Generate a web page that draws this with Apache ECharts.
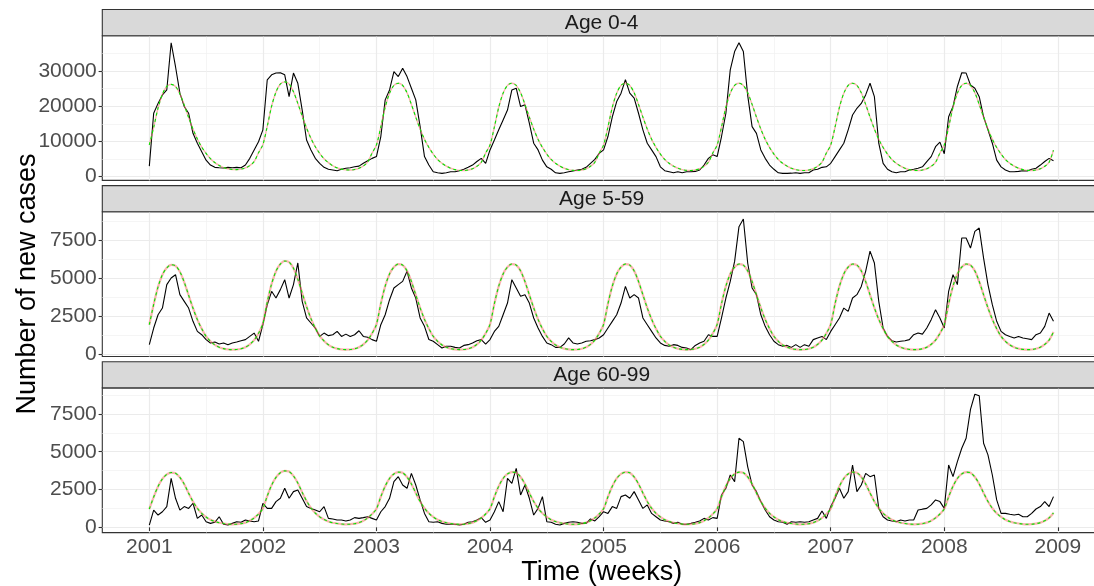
<!DOCTYPE html>
<html><head><meta charset="utf-8">
<script src="https://cdn.jsdelivr.net/npm/echarts@6/dist/echarts.min.js"></script>
<style>html,body{margin:0;padding:0;background:#fff}#c{width:1094px;height:586px}</style>
</head><body><div id="c"></div>
<script>
// ---------------- data ----------------
const panelNames = ['Age 0-4', 'Age 5-59', 'Age 60-99'];
const xAxisTitle = 'Time (weeks)';
const yAxisTitle = 'Number of new cases';
const yearTicks = [2001, 2002, 2003, 2004, 2005, 2006, 2007, 2008, 2009];
const yearMinorBreaks = [2001.5, 2002.5, 2003.5, 2004.5, 2005.5, 2006.5, 2007.5, 2008.5];
const yTicksAge0to4 = [0, 10000, 20000, 30000];
const yMinorAge0to4 = [5000, 15000, 25000, 35000];
const yTicksAge5to59 = [0, 2500, 5000, 7500];
const yMinorAge5to59 = [1250, 3750, 6250, 8750];
const yTicksAge60to99 = [0, 2500, 5000, 7500];
const yMinorAge60to99 = [1250, 3750, 6250, 8750];

// observed cases, one value every two weeks from 2001 week 1
const casesAge0to4 = [
3000,18000,20800,23200,24600,38000,31200,23700,19900,18000,
12300,9500,7100,4700,3300,2650,2550,2460,2650,2550,
2650,2550,3300,5200,7600,9900,13300,27500,28900,29400,
29500,28900,22700,29400,26500,18900,10400,7600,5200,3800,
2650,2100,1900,1700,2100,2400,2550,2800,3000,3800,
4500,5200,5700,11400,21800,24600,29800,28400,30800,28400,
25100,21800,14200,5700,3300,1400,1100,950,1100,1400,
1400,1700,2100,2650,3300,4300,5200,3800,7600,10400,
13300,16100,18900,24600,25100,19900,20400,15200,9500,7600,
4700,2800,2100,1100,950,1100,1400,1600,1900,2100,
2650,3800,4900,6600,7600,11400,17000,21300,23700,27500,
23700,22300,18000,13300,9500,7600,5700,2800,1700,1400,
1100,1400,1100,1400,1400,1500,1900,3300,5200,6200,
5700,11400,18000,30300,35500,38000,35500,23000,14200,12300,
7600,5200,3300,2100,1100,950,950,1000,1100,950,
1100,1100,1900,2100,2650,2800,3800,5700,7600,9500,
13300,17500,19400,20800,23200,26500,22700,9500,3800,2100,
1400,1100,1400,1400,1900,2100,2400,2800,4300,5700,
8500,9800,6500,17000,19900,25600,29500,29400,26000,25100,
22700,17000,13300,9500,4700,2800,1900,1400,1400,1500,
1700,1600,2100,2400,3300,4300,5200,4500];

const casesAge5to59 = [
660,1750,2620,3060,4600,5030,5250,3940,3500,3060,
2190,1530,1310,990,770,830,700,770,660,770,
830,920,990,1200,1420,880,1970,3280,4160,3720,
4270,4920,3720,4600,6020,3500,2410,2080,1750,1200,
1420,1250,1310,1530,1200,1350,1200,1310,1570,1200,
1140,990,880,1970,2620,3610,4380,4600,4810,5470,
4380,3720,2410,1860,1000,880,660,440,550,550,
480,440,610,660,770,920,990,700,990,1530,
1860,2620,3390,4920,4380,3830,3940,3390,2410,1750,
1200,770,660,480,480,700,1100,770,700,770,
880,920,990,1100,1310,1750,2190,2620,3390,4480,
3720,3940,3720,2410,1970,1530,1100,770,610,550,
660,610,480,440,330,610,770,880,1310,1200,
1200,2410,3720,4810,6120,8400,8900,6000,4380,3940,
2620,1860,1310,880,660,550,610,480,660,480,
660,550,990,1100,1200,990,1530,1970,2410,3060,
2840,3720,3940,4480,5470,6800,6020,3500,1750,1200,
920,830,880,920,990,1310,1420,1350,1750,2300,
2950,2410,1750,4160,5250,4600,7660,7660,7000,8090,
8310,6340,4600,3280,2190,1530,1310,1200,1100,1200,
1100,1050,990,1310,1420,1860,2730,2190];

const casesAge60to99 = [
150,1140,810,1030,1370,3240,1920,1140,1370,1250,
1590,590,810,370,260,330,700,200,150,260,
370,330,480,420,370,420,1590,1250,1250,1700,
1920,2580,1920,2360,2470,1920,1370,1250,1140,1030,
1370,590,550,480,480,420,480,640,590,640,
700,590,480,1030,1370,1920,3020,3350,2800,2580,
3570,2800,1810,920,370,330,370,260,200,200,
200,150,200,330,370,480,640,330,480,1030,
1700,1030,3240,2910,3900,2140,2800,1920,810,1250,
2030,370,330,200,150,260,330,370,330,260,
260,550,420,700,1030,920,1370,1250,2030,2140,
1920,2360,1810,1250,1480,920,700,480,420,370,
260,330,200,200,260,330,420,590,480,640,
590,2140,2580,3460,3020,5890,5670,4000,2800,2360,
1700,1140,700,480,370,330,200,370,330,370,
330,370,480,590,1080,590,1370,1920,2580,1920,
2360,4120,2360,2800,3570,3350,3460,1250,700,480,
420,370,480,420,480,480,1140,1200,1250,1480,
1810,1700,1250,4120,3350,4340,5230,5890,7800,8800,
8700,5560,4790,3460,1810,920,920,860,810,860,
700,700,920,1210,1370,1700,1370,2030];

// fitted seasonal curves, same two-week grid (26 values per year)
const fitAge0to4 = [
9000,14000,19500,23400,25600,26200,25600,23500,20300,16800,13500,10700,8400,6600,5100,4000,3200,2600,2250,2050,2000,2150,2500,3150,4300,6800,
9100,14300,20000,24000,26300,26900,26300,24100,20800,17200,13800,10900,8500,6600,5100,4000,3100,2500,2150,1950,1900,2050,2400,3050,4200,6700,
9000,14100,19700,23700,25900,26500,25900,23800,20500,16900,13500,10600,8300,6400,4900,3800,3000,2400,2000,1800,1750,1900,2250,2950,4100,6700,
9000,14100,19700,23700,25900,26500,25900,23800,20500,16900,13500,10600,8300,6400,4900,3800,3000,2400,2000,1800,1750,1900,2250,2950,4100,6700,
9000,14100,19700,23700,25900,26500,25900,23800,20500,16900,13500,10600,8300,6400,4900,3800,3000,2400,2000,1800,1750,1900,2250,2950,4100,6700,
9000,14100,19700,23700,25900,26500,25900,23800,20500,16900,13500,10600,8300,6400,4900,3800,3000,2400,2000,1800,1750,1900,2250,2950,4100,6700,
9000,14100,19700,23700,25900,26500,25900,23800,20500,16900,13500,10600,8300,6400,4900,3800,3000,2400,2000,1800,1750,1900,2250,2950,4100,6700,
9000,14100,19700,23700,25900,26500,25900,23800,20500,16900,13500,10600,8300,6400,4900,3800,3000,2400,2000,1800,1750,1900,2250,2950,4100,7500];
const fitAge5to59 = [
1970,3300,4450,5250,5700,5900,5830,5450,4750,3900,3050,2300,1700,1200,880,640,490,400,350,330,340,390,490,680,960,1400,
2050,3450,4650,5480,5950,6150,6070,5680,4950,4050,3150,2370,1750,1230,900,650,490,400,350,330,340,390,490,680,960,1400,
1990,3350,4500,5300,5750,5950,5880,5500,4800,3930,3070,2320,1710,1210,880,640,490,400,350,330,340,390,490,680,960,1400,
1990,3350,4500,5300,5750,5950,5880,5500,4800,3930,3070,2320,1710,1210,880,640,490,400,350,330,340,390,490,680,960,1400,
1990,3350,4500,5300,5750,5950,5880,5500,4800,3930,3070,2320,1710,1210,880,640,490,400,350,330,340,390,490,680,960,1400,
1990,3350,4500,5300,5750,5950,5880,5500,4800,3930,3070,2320,1710,1210,880,640,490,400,350,330,340,390,490,680,960,1400,
1990,3350,4500,5300,5750,5950,5880,5500,4800,3930,3070,2320,1710,1210,880,640,490,400,350,330,340,390,490,680,960,1400,
1990,3350,4500,5300,5750,5950,5880,5500,4800,3930,3070,2320,1710,1210,880,640,490,400,350,330,340,390,490,680,960,1500];
const fitAge60to99 = [
1210,2000,2700,3200,3500,3620,3580,3300,2850,2250,1700,1250,920,680,500,380,300,250,215,200,205,240,310,430,620,880,
1250,2070,2790,3300,3610,3730,3690,3400,2930,2310,1740,1280,940,690,510,385,300,250,215,200,205,240,310,430,620,880,
1220,2020,2720,3230,3530,3650,3610,3330,2870,2270,1710,1260,925,685,500,380,300,250,215,200,205,240,310,430,620,880,
1220,2020,2720,3230,3530,3650,3610,3330,2870,2270,1710,1260,925,685,500,380,300,250,215,200,205,240,310,430,620,880,
1220,2020,2720,3230,3530,3650,3610,3330,2870,2270,1710,1260,925,685,500,380,300,250,215,200,205,240,310,430,620,880,
1220,2020,2720,3230,3530,3650,3610,3330,2870,2270,1710,1260,925,685,500,380,300,250,215,200,205,240,310,430,620,880,
1220,2020,2720,3230,3530,3650,3610,3330,2870,2270,1710,1260,925,685,500,380,300,250,215,200,205,240,310,430,620,880,
1220,2020,2720,3230,3530,3650,3610,3330,2870,2270,1710,1260,925,685,500,380,300,250,215,200,205,240,310,430,620,950];

// ---------------- layout / style ----------------
const FONT = "'Liberation Sans', Arial, Helvetica, sans-serif";
const X_MIN = 2000.586, X_MAX = 2009.38;
const GRID_LEFT = 102.3, GRID_RIGHT = -7, PANEL_H = 144.7, STRIP_H = 26.2;
const panelTops = [35.7, 211.8, 387.9];
const yRanges = [[-1050, 40000], [-118, 9377], [-350, 9220]];
const cases = [casesAge0to4, casesAge5to59, casesAge60to99];
const fits = [fitAge0to4, fitAge5to59, fitAge60to99];
const yMajors = [yTicksAge0to4, yTicksAge5to59, yTicksAge60to99];
const yMinors = [yMinorAge0to4, yMinorAge5to59, yMinorAge60to99];
const weekTime = i => 2001 + 2 * i / 52;

const grid = [], xAxis = [], yAxis = [], series = [], graphic = [];
for (let k = 0; k < 3; k++) {
  grid.push({left: GRID_LEFT, right: GRID_RIGHT, top: panelTops[k], height: PANEL_H,
    outerBoundsMode: 'none', containLabel: false,
    show: true, borderColor: '#333333', borderWidth: 1.1, backgroundColor: '#ffffff'});
  const last = k === 2;
  xAxis.push({gridIndex: k, type: 'value', position: 'bottom', min: X_MIN, max: X_MAX, axisLine: {show: false},
    axisTick: {show: false, customValues: yearMinorBreaks}, axisLabel: {show: false},
    splitLine: {show: true, lineStyle: {color: '#f0f0f0', width: 0.7}}});
  xAxis.push({gridIndex: k, type: 'value', position: 'bottom', min: X_MIN, max: X_MAX, axisLine: {show: false},
    axisTick: {show: last, customValues: yearTicks, length: 3.7, lineStyle: {color: '#333333', width: 1.1}},
    axisLabel: {show: last, customValues: yearTicks, formatter: v => String(v), color: '#4d4d4d',
      fontSize: 21, fontFamily: FONT, margin: 4},
    splitLine: {show: true, lineStyle: {color: '#ebebeb', width: 1.2}}});
  yAxis.push({gridIndex: k, type: 'value', position: 'left', min: yRanges[k][0], max: yRanges[k][1], axisLine: {show: false},
    axisTick: {show: false, customValues: yMinors[k]}, axisLabel: {show: false},
    splitLine: {show: true, lineStyle: {color: '#f0f0f0', width: 0.7}}});
  yAxis.push({gridIndex: k, type: 'value', position: 'left', min: yRanges[k][0], max: yRanges[k][1], axisLine: {show: false},
    axisTick: {show: true, customValues: yMajors[k], length: 3.7, lineStyle: {color: '#333333', width: 1.1}},
    axisLabel: {show: true, customValues: yMajors[k], formatter: v => String(v), color: '#4d4d4d',
      fontSize: 21, fontFamily: FONT, margin: 5.5},
    splitLine: {show: true, lineStyle: {color: '#ebebeb', width: 1.2}}});

  const obs = cases[k].map((v, i) => [weekTime(i), v]);
  const fitPts = fits[k].map((v, i) => [weekTime(i), v]);
  series.push({type: 'line', xAxisIndex: 2 * k + 1, yAxisIndex: 2 * k + 1, data: obs, showSymbol: false,
    lineStyle: {color: '#000000', width: 1.1}, z: 3, silent: true});
  series.push({type: 'line', xAxisIndex: 2 * k + 1, yAxisIndex: 2 * k + 1, data: fitPts, showSymbol: false,
    smooth: 0.3, lineStyle: {color: '#f8766d', width: k === 0 ? 1.4 : 2.2, opacity: 0.55}, z: 4, silent: true});
  series.push({type: 'line', xAxisIndex: 2 * k + 1, yAxisIndex: 2 * k + 1, data: fitPts, showSymbol: false,
    smooth: 0.3, lineStyle: {color: '#00e600', width: 1.1, type: [3, 3]}, z: 5, silent: true});

  const stripTop = panelTops[k] - STRIP_H;
  graphic.push({type: 'rect', shape: {x: GRID_LEFT, y: stripTop, width: 1010, height: STRIP_H},
    style: {fill: '#d9d9d9', stroke: '#333333', lineWidth: 1.1}, z: 10});
  graphic.push({type: 'text', x: (GRID_LEFT + 1101) / 2, y: stripTop + STRIP_H / 2 + 0.5,
    style: {text: panelNames[k], align: 'center', verticalAlign: 'middle', fill: '#1a1a1a',
      font: '21px ' + FONT}, z: 11});
}
graphic.push({type: 'text', x: (GRID_LEFT + 1101) / 2, y: 573,
  style: {text: xAxisTitle, align: 'center', verticalAlign: 'middle', fill: '#000000', font: '27px ' + FONT}});
graphic.push({type: 'text', x: 28, y: 284, rotation: Math.PI / 2,
  style: {text: yAxisTitle, align: 'center', verticalAlign: 'middle', fill: '#000000', font: '27px ' + FONT}});

const chart = echarts.init(document.getElementById('c'), null, {renderer: 'canvas'});
chart.setOption({animation: false, backgroundColor: '#ffffff', grid, xAxis, yAxis, series, graphic});
</script></body></html>
